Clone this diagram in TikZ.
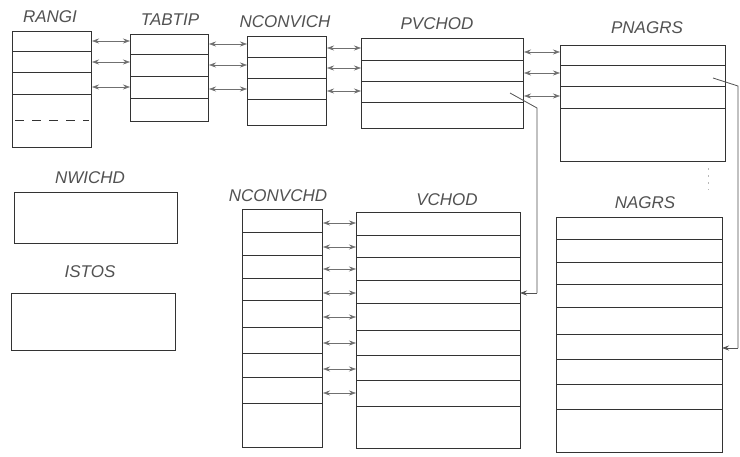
\documentclass[tikz,border=0pt]{standalone}
\usepackage{fontspec}
\setmainfont{Liberation Sans}
\usetikzlibrary{arrows.meta}
\definecolor{ink}{gray}{0.2}
\tikzset{
  tbl/.style={draw=ink, line width=1pt, anchor=north west, inner sep=0pt, outer sep=0pt},
  rowline/.style={draw=ink, line width=0.9pt},
  lbl/.style={font=\fontsize{17}{17}\selectfont\itshape, text=ink!85, inner sep=0pt},
  biarrow/.style={draw=ink!70, line width=0.6pt, {Stealth[length=7pt,width=5pt]}-{Stealth[length=7pt,width=5pt]}, shorten <=1pt, shorten >=0pt},
  link/.style={draw=ink!85, line width=0.8pt},
  linkarrow/.style={draw=ink!85, line width=0.8pt, -{Stealth[length=7pt,width=5pt]}}
}
\begin{document}
\begin{tikzpicture}[x=1pt,y=-1pt]
\useasboundingbox (0,0) rectangle (740,456);
\fill[white] (0,0) rectangle (740,456);

% ---- tables
\node[tbl, minimum width=79, minimum height=116] (rangi) at (12,31) {};
\node[tbl, minimum width=78, minimum height=87] (tabtip) at (130,34) {};
\node[tbl, minimum width=79, minimum height=89] (nconvich) at (247,36) {};
\node[tbl, minimum width=162, minimum height=90] (pvchod) at (361,38) {};
\node[tbl, minimum width=165, minimum height=116] (pnagrs) at (560,45) {};
\node[tbl, minimum width=163, minimum height=51] (nwichd) at (14,192) {};
\node[tbl, minimum width=164, minimum height=57] (istos) at (11,293) {};
\node[tbl, minimum width=80, minimum height=238] (nconvchd) at (242,209) {};
\node[tbl, minimum width=164, minimum height=236] (vchod) at (356,212) {};
\node[tbl, minimum width=166, minimum height=235] (nagrs) at (556,217) {};

% ---- labels
\node[lbl] (l-rangi) at (50,17) {RANGI};
\node[lbl] (l-tabtip) at (170,20) {TABTIP};
\node[lbl] (l-nconvich) at (285,22) {NCONVICH};
\node[lbl] (l-pvchod) at (437,24) {PVCHOD};
\node[lbl] (l-pnagrs) at (647,28) {PNAGRS};
\node[lbl] (l-nwichd) at (90,178) {NWICHD};
\node[lbl] (l-istos) at (90,272) {ISTOS};
\node[lbl] (l-nconvchd) at (278,196) {NCONVCHD};
\node[lbl] (l-vchod) at (447,200) {VCHOD};
\node[lbl] (l-nagrs) at (645,203) {NAGRS};

% ---- row lines
\foreach \r in {51,72,94} \draw[rowline] (rangi.west |- 0,\r) -- (rangi.east |- 0,\r);
\draw[rowline, dash pattern=on 9pt off 8pt] ([xshift=3pt]rangi.west |- 0,120) -- ([xshift=-2pt]rangi.east |- 0,120);
\foreach \r in {54,76,98} \draw[rowline] (tabtip.west |- 0,\r) -- (tabtip.east |- 0,\r);
\foreach \r in {57,78,99} \draw[rowline] (nconvich.west |- 0,\r) -- (nconvich.east |- 0,\r);
\foreach \r in {60,81,102} \draw[rowline] (pvchod.west |- 0,\r) -- (pvchod.east |- 0,\r);
\foreach \r in {65,86,108} \draw[rowline] (pnagrs.west |- 0,\r) -- (pnagrs.east |- 0,\r);
\foreach \r in {232,255,278,300,327,353,377,403} \draw[rowline] (nconvchd.west |- 0,\r) -- (nconvchd.east |- 0,\r);
\foreach \r in {235,257,280,303,330,355,380,406} \draw[rowline] (vchod.west |- 0,\r) -- (vchod.east |- 0,\r);
\foreach \r in {239,262,284,307,334,359,384,409} \draw[rowline] (nagrs.west |- 0,\r) -- (nagrs.east |- 0,\r);

% ---- double arrows
\foreach \y in {41,62,87} \draw[biarrow] (rangi.east |- 0,\y) -- (tabtip.west |- 0,\y);
\foreach \y in {44,65,89} \draw[biarrow] (tabtip.east |- 0,\y) -- (nconvich.west |- 0,\y);
\foreach \y in {48,68,91} \draw[biarrow] (nconvich.east |- 0,\y) -- (pvchod.west |- 0,\y);
\foreach \y in {52,73,96} \draw[biarrow] (pvchod.east |- 0,\y) -- (pnagrs.west |- 0,\y);
\foreach \y in {223,247,269,293,317,343,369,393} \draw[biarrow] (nconvchd.east |- 0,\y) -- (vchod.west |- 0,\y);

% ---- links
\coordinate (a0) at (510,93);
\coordinate (a1) at (537,108);
\coordinate (a2) at (537,293);
\draw[link] (a0) -- (a1) -- (a2);
\draw[linkarrow] (a2) -- (vchod.east |- a2);

\coordinate (b0) at (713,78);
\coordinate (b1) at (738,86);
\coordinate (b2) at (738,348);
\draw[link] (b0) -- (b1) -- (b2);
\draw[linkarrow] (b2) -- (nagrs.east |- b2);

% ---- faint dotted continuation
\coordinate (d0) at (708,168);
\coordinate (d1) at (708,190);
\draw[ink!35, line width=1pt, dash pattern=on 2pt off 5pt] (d0) -- (d1);
\end{tikzpicture}
\end{document}
